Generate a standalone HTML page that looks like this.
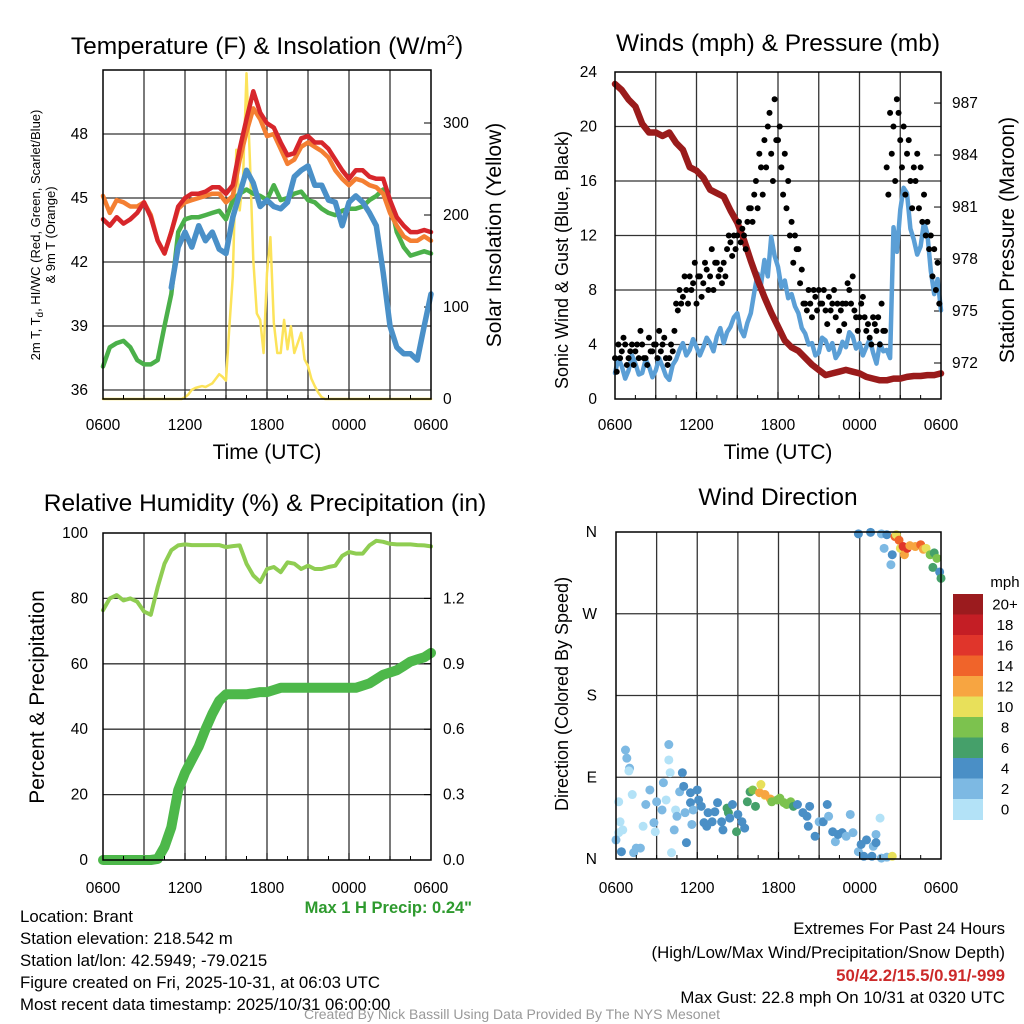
<!DOCTYPE html>
<html><head><meta charset="utf-8"><style>
body{margin:0;background:#fff}
svg{display:block;font-family:"Liberation Sans",Arial,sans-serif}
</style></head><body>
<svg id="fig" width="1024" height="1024" viewBox="0 0 1024 1024">
<rect width="1024" height="1024" fill="#fff"/>
<g id="p1"></g>
<g id="p2"></g>
<g id="p3"></g>
<g id="p4"></g>
<g id="txt">
<text x="267" y="54" font-size="24.5" text-anchor="middle">Temperature (F) &amp; Insolation (W/m<tspan dy="-9" font-size="15">2</tspan><tspan dy="9">)</tspan></text>
<text x="778" y="51" font-size="24.5" text-anchor="middle">Winds (mph) &amp; Pressure (mb)</text>
<text x="265" y="511" font-size="24.5" text-anchor="middle">Relative Humidity (%) &amp; Precipitation (in)</text>
<text x="778" y="505" font-size="24.5" text-anchor="middle">Wind Direction</text>
<text x="267" y="459" font-size="21" text-anchor="middle">Time (UTC)</text>
<text x="778" y="459" font-size="21" text-anchor="middle">Time (UTC)</text>
<text transform="translate(40,235) rotate(-90)" font-size="13" text-anchor="middle">2m T, T<tspan dy="3" font-size="10">d</tspan><tspan dy="-3">, HI/WC (Red, Green, Scarlet/Blue)</tspan></text>
<text transform="translate(55,235) rotate(-90)" font-size="13" text-anchor="middle">&amp; 9m T (Orange)</text>
<text transform="translate(501,235) rotate(-90)" font-size="21" text-anchor="middle">Solar Insolation (Yellow)</text>
<text transform="translate(568,260) rotate(-90)" font-size="18" text-anchor="middle">Sonic Wind &amp; Gust (Blue, Black)</text>
<text transform="translate(1014,240) rotate(-90)" font-size="21" text-anchor="middle">Station Pressure (Maroon)</text>
<text transform="translate(44,697) rotate(-90)" font-size="21" text-anchor="middle">Percent &amp; Precipitation</text>
<text transform="translate(568,694) rotate(-90)" font-size="18" text-anchor="middle">Direction (Colored By Speed)</text>
<text x="472" y="913" font-size="16.5" font-weight="bold" fill="#2e9a2e" text-anchor="end">Max 1 H Precip: 0.24"</text>
<g font-size="16.8">
<text x="20" y="922">Location: Brant</text>
<text x="20" y="944">Station elevation: 218.542 m</text>
<text x="20" y="966">Station lat/lon: 42.5949; -79.0215</text>
<text x="20" y="988">Figure created on Fri, 2025-10-31, at 06:03 UTC</text>
<text x="20" y="1010">Most recent data timestamp: 2025/10/31 06:00:00</text>
</g>
<g font-size="16.8" text-anchor="end">
<text x="1005" y="934">Extremes For Past 24 Hours</text>
<text x="1005" y="958">(High/Low/Max Wind/Precipitation/Snow Depth)</text>
<text x="1005" y="981" font-weight="bold" fill="#cc2a2a">50/42.2/15.5/0.91/-999</text>
<text x="1005" y="1003">Max Gust: 22.8 mph On 10/31 at 0320 UTC</text>
</g>
<text x="512" y="1019" font-size="14" fill="#999" text-anchor="middle">Created By Nick Bassill Using Data Provided By The NYS Mesonet</text>
</g>
</svg>
<script>
// ---- data (half-hourly unless noted) ----
const xTickLabels = ["0600","1200","1800","0000","0600"];
const tempRed = [44.0,43.7,44.1,43.8,44.0,44.3,44.8,44.1,43.0,42.4,43.4,44.6,45.0,45.2,45.2,45.3,45.5,45.5,45.2,45.6,47.3,48.7,50.0,49.0,48.5,48.3,47.6,47.0,47.1,47.8,47.9,47.6,47.6,47.3,46.8,46.3,45.9,46.3,46.3,46.0,45.9,45.9,44.9,44.1,43.7,43.4,43.4,43.5,43.4];
const tempOrange = [45.1,44.3,44.9,44.8,44.6,44.6,44.8,44.2,43.0,42.4,43.4,44.5,44.8,44.9,45.0,45.1,45.2,45.2,44.8,45.1,46.8,48.1,49.2,48.7,47.9,48.0,47.3,46.6,46.8,47.4,47.6,47.4,47.2,46.9,46.3,45.9,45.6,45.9,45.8,45.6,45.5,45.2,44.3,43.7,43.2,43.0,43.0,43.2,43.0];
const tempGreen = [37.1,38.0,38.2,38.3,38.0,37.4,37.2,37.2,37.4,39.0,40.5,43.4,44.0,44.1,44.1,44.2,44.3,44.4,44.0,44.9,45.2,45.4,45.2,45.1,44.9,45.6,44.9,45.0,45.2,45.3,44.9,44.8,44.5,44.3,44.2,44.4,44.5,44.5,44.6,44.9,45.1,45.4,44.9,43.4,42.7,42.3,42.4,42.5,42.4];
const tempBlue = [null,null,null,null,null,null,null,null,null,null,40.8,42.7,43.4,42.7,43.7,43.0,43.4,42.6,42.4,44.1,45.2,46.3,45.7,44.6,44.9,44.6,44.5,44.8,46.0,46.3,46.5,45.6,45.6,44.9,44.8,43.7,44.8,45.1,44.8,44.3,43.7,41.5,39.0,38.0,37.7,37.7,37.4,39.0,40.5];
// quarter-hourly insolation W/m2
const solar = [0,0,0,0,0,0,0,0,0,0,0,0,0,0,0,0,0,0,0,0,0,0,0,0,2,5,10,12,13,14,13,15,17,22,27,24,20,79,133,271,205,242,354,260,151,93,86,50,137,176,83,50,50,86,54,79,50,61,72,43,36,22,14,7,2,0,0,0,0,0,0,0,0,0,0,0,0,0,0,0,0,0,0,0,0,0,0,0,0,0,0,0,0,0,0,0,0];
// quarter-hourly sonic wind mph
const windSpd = [1.9,3.0,2.4,1.5,2.1,3.2,2.6,1.8,1.9,2.9,2.4,1.6,2.1,3.0,2.4,1.7,1.4,2.5,2.9,3.6,4.1,3.2,3.6,4.4,3.8,3.2,3.8,4.5,4.1,3.5,4.6,5.2,4.1,4.9,5.3,6.0,6.3,5.1,4.6,5.6,6.3,7.8,9.2,8.4,10.2,9.0,11.9,10.5,9.7,8.2,8.7,7.4,7.7,6.8,6.3,5.2,4.8,4.0,4.1,3.2,3.4,4.5,4.3,3.6,4.1,3.0,3.4,4.2,3.8,4.9,4.6,3.7,4.1,3.2,3.8,4.4,3.4,2.6,4.1,3.5,3.6,3.0,12.6,10.8,13.9,15.5,15.1,12.5,11.7,10.6,11.2,13.0,12.1,9.4,7.7,8.8,6.5];
const pressure = [988.1,987.75,987.2,986.8,985.8,985.3,985.3,985.1,985.3,984.7,984.3,983.3,983.1,982.7,982.0,981.8,981.6,980.8,980.1,979.1,977.9,976.8,975.8,974.9,974.1,973.3,972.9,972.7,972.3,971.9,971.6,971.3,971.4,971.5,971.6,971.5,971.4,971.2,971.1,971.0,971.0,971.1,971.1,971.2,971.25,971.25,971.3,971.3,971.4];
// quarter-hourly gusts (two interleaved sets)
const gustA = [3,4,3.5,4,3,4,3.5,3,4,3,4.5,3.5,4,5,4,3,3,3.5,7,8,7.5,8,9,8.5,7,9,8.5,9.5,9,8,10,9.5,10,11,11.5,12,12,11.5,12,13,14,15,14,17,19,20,18,22,19,17,18,16,13,12,11,9.5,7,8,6,7.5,8,7,6.5,7.5,7,6,5,7,7,8,9,6,6,7.5,5,4.5,6,5,4,5,17,21,20,22,19,20,18,16,17,18,17,15,13,12,11,10];
const gustB = [2,3,4.5,2.5,3.5,2.5,4,5,3,2.5,3.5,4,3,3.5,4.5,2.5,4,5,6.5,7,9,7,8,10,9,7.5,10,8,11,10,9,8.5,9,12,10.5,11,13,12.5,11,14,13,16,18,15,17,21,16,19,20,15,14,12,10,11,8.5,7,6.5,7,8,6.5,7,8,5.5,6.5,8,7,6.5,5.5,8.5,7,6.5,5,7,6,5.5,4,5.5,6,7,5,15,18,16,21,17,15,19,14,16,14,13,12,11,9,8,7];
const rh = [76.4,80,81,79.4,80,79,76,75,83.5,90.6,94.7,96.2,96.5,96.3,96.3,96.3,96.3,96.3,95.7,96,96.2,90.6,87,85,89,89.6,88,91,90.6,89,90,89,89,89.6,90,93,94.2,93.7,93.7,96.2,97.6,97.3,96.7,96.5,96.5,96.5,96.3,96.2,95.9];
const precip = [0,0,0,0,0,0,0,0,0.005,0.06,0.15,0.32,0.40,0.46,0.52,0.60,0.67,0.73,0.76,0.76,0.76,0.76,0.765,0.77,0.77,0.78,0.79,0.79,0.79,0.79,0.79,0.79,0.79,0.79,0.79,0.79,0.79,0.79,0.80,0.81,0.83,0.85,0.86,0.87,0.89,0.91,0.92,0.93,0.95];
// wind direction: hours since 0600, degrees, speed mph
const dirHour = [0.2,0,0.4,0.7,0.8,1,0.95,0.2,0.3,0.5,1.2,1.5,1.3,1.8,2.2,2,2.5,2.8,2.9,3,3.4,3.5,3.7,3.9,3.9,4,4.1,4.3,4.4,4.5,4.7,4.9,5,5.1,5.2,5.5,5.5,5.6,5.7,6,6.1,6.3,6.5,6.7,6.8,7.1,7.3,7.5,7.8,7.9,8.2,8.3,8.4,8.6,8.9,9,9.3,9.5,9.7,9.9,10.1,10.3,10.6,10.7,11,11,11.4,11.5,11.9,12.1,12.4,12.6,12.9,13.1,13.4,13.8,14.1,14.2,14.3,14.7,15,15.3,15.6,15.7,16,16.2,16.4,16.7,17,17.3,17.5,17.9,18.1,18.3,18.5,18.9,19,19.2,19.2,19.5,19.6,20,20.4,17.9,18.8,19.6,19.8,20,20.3,20.4,20.6,20.7,20.9,21,21.2,21.3,21.5,21.7,22.1,22.5,22.7,22.9,23.2,23.5,23.7,23.4,23.9,24];
const dirDeg = [29,21,8,120,111,100,97,63,41,32,71,12,7,12,60,36,76,40,30,63,54,84,65,126,109,95,7,32,54,47,74,95,80,51,18,73,62,38,54,76,65,58,40,36,51,41,52,62,41,32,56,51,45,60,30,49,41,34,63,74,76,58,73,82,70,71,66,63,65,67,62,60,63,58,60,51,47,36,58,25,41,41,60,47,30,19,27,29,25,49,29,8,16,3,21,3,14,27,18,45,1,2,3,358,359.6,358,342,357,324,335,355,357,351,342,344,335,342,345,344,346,341,342,335,337,331,321,316,309];
const dirSpd = [1,3,4,3,3,3,1,1,1,1,1,3,3,3,3,1,3,3,1,3,3,3,1,3,1,1,1,3,1,3,3,5,5,3,5,5,5,3,3,5,5,5,5,5,5,5,5,5,5,5,7,7,5,5,7,5,5,5,7,7,9,7,13,11,11,13,13,9,9,9,9,9,9,7,5,5,5,5,5,5,3,5,5,3,5,3,5,5,3,3,3,3,5,5,5,5,3,3,5,1,3,3,11,5,5,3,3,5,3,5,14,11,14,10,16,12,16,12,12,14,12,10,9,7,9,7,5,7];
const speedBins = ["0","2","4","6","8","10","12","14","16","18","20+"];
const binColors = ["#b3e2f7","#7db9e3","#4a8fc6","#45a06a","#7cc24e","#e8e05a","#f7a541","#f0642a","#e0352b","#c41e25","#9b1b1e"];

const NS="http://www.w3.org/2000/svg";
function mk(parent, tag, attrs, name, inter){
  const el=document.createElementNS(NS,tag);
  for(const k in attrs) el.setAttribute(k,attrs[k]);
  
  
  parent.appendChild(el); return el;
}
function txt(parent,x,y,s,anchor,size,name){
  const t=mk(parent,'text',{x:x,y:y,'font-size':size||16,'text-anchor':anchor||'start'},name);
  t.textContent=s; return t;
}
function frame(g,P,name){
  for(let h=3;h<24;h+=3){const x=P.xs(h);mk(g,'line',{x1:x,x2:x,y1:P.y0,y2:P.y1,stroke:'#333','stroke-width':1.3},name+'-vgrid');}
}
function border(g,P,name){
  mk(g,'rect',{x:P.x0,y:P.y0,width:P.x1-P.x0,height:P.y1-P.y0,fill:'none',stroke:'#000','stroke-width':1.5},name+'-border');
  for(let h=0;h<=24;h+=1.5){const x=P.xs(h);const L=(h%6===0)?7:4;mk(g,'line',{x1:x,x2:x,y1:P.y1,y2:P.y1-L,stroke:'#000','stroke-width':1},name+'-x-tick');}
}
function xlabels(g,P,y,name){
  xTickLabels.forEach((s,i)=>txt(g,P.xs(i*6),y,s,'middle',15.5,name+'-x-tick-label'));
}
function line(g,vals,step,xs,ys,attrs,name){
  let d='',pen=false;
  vals.forEach((v,i)=>{ if(v===null){pen=false;return;}
    d+=(pen?'L':'M')+xs(i*step).toFixed(1)+' '+ys(v).toFixed(1); pen=true;});
  return mk(g,'path',Object.assign({d:d,fill:'none','stroke-linejoin':'round','stroke-linecap':'round'},attrs),name);
}
function mkP(x0,x1,y0,y1){return {x0,x1,y0,y1,xs:h=>x0+h*(x1-x0)/24};}

// ---- Panel 1 ----
(function(){
  const g=document.getElementById('p1');
  const P=mkP(103,431,70,399);
  const yT=v=>390-(v-36)*64/3, yS=v=>399-v*0.92;
  frame(g,P,'p1');
  [36,39,42,45,48].forEach(v=>{mk(g,'line',{x1:P.x0,x2:P.x1,y1:yT(v),y2:yT(v),stroke:'#333','stroke-width':1.3},'p1-hgrid');
    txt(g,88,yT(v)+5,String(v),'end',15.5,'p1-y-tick-label');});
  [0,100,200,300].forEach(v=>{txt(g,443,yS(v)+5,String(v),'start',15.5,'p1-right-tick-label');
    mk(g,'line',{x1:P.x1,x2:P.x1-7,y1:yS(v),y2:yS(v),stroke:'#000'},'p1-right-tick');});
  line(g,solar,0.25,P.xs,yS,{stroke:'#fce35a','stroke-width':2.5},'solar-insolation-line');
  line(g,tempGreen,0.5,P.xs,yT,{stroke:'#4bb04a','stroke-width':4.5},'dewpoint-line');
  line(g,tempBlue,0.5,P.xs,yT,{stroke:'#4a90c8','stroke-width':5.5},'wind-chill-line');
  line(g,tempOrange,0.5,P.xs,yT,{stroke:'#f47f32','stroke-width':4.5},'temp-9m-line');
  line(g,tempRed,0.5,P.xs,yT,{stroke:'#d7262b','stroke-width':4.5},'temp-2m-line');
  border(g,P,'p1'); xlabels(g,P,430,'p1');
})();

// ---- Panel 2 ----
(function(){
  const g=document.getElementById('p2');
  const P=mkP(615,941,72,399);
  const yW=v=>399-v*13.625, yP=v=>363-(v-972)*17.33;
  frame(g,P,'p2');
  [0,4,8,12,16,20,24].forEach(v=>{ if(v>0&&v<24) mk(g,'line',{x1:P.x0,x2:P.x1,y1:yW(v),y2:yW(v),stroke:'#333','stroke-width':1.3},'p2-hgrid');
    txt(g,597,yW(v)+5,String(v),'end',15.5,'p2-y-tick-label');});
  [972,975,978,981,984,987].forEach(v=>{txt(g,952,yP(v)+5,String(v),'start',15.5,'p2-right-tick-label');
    mk(g,'line',{x1:P.x1,x2:P.x1-7,y1:yP(v),y2:yP(v),stroke:'#000'},'p2-right-tick');});
  line(g,windSpd,0.25,P.xs,yW,{stroke:'#5b9fd6','stroke-width':4.5},'sonic-wind-line');
  line(g,pressure,0.5,P.xs,yP,{stroke:'#9a1b1b','stroke-width':6.5},'pressure-line');
  gustA.forEach((v,i)=>{mk(g,'circle',{cx:P.xs(i*0.25),cy:yW(v),r:3,fill:'#000'},'gust-point');});
  gustB.forEach((v,i)=>{mk(g,'circle',{cx:P.xs(i*0.25+0.125),cy:yW(v),r:3,fill:'#000'},'gust-point');});
  border(g,P,'p2'); xlabels(g,P,430,'p2');
})();

// ---- Panel 3 ----
(function(){
  const g=document.getElementById('p3');
  const P=mkP(103,431,533,860);
  const yR=v=>860-v*3.27, yI=v=>860-v/1.5*327;
  frame(g,P,'p3');
  [0,20,40,60,80,100].forEach(v=>{ if(v>0&&v<100) mk(g,'line',{x1:P.x0,x2:P.x1,y1:yR(v),y2:yR(v),stroke:'#333','stroke-width':1.3},'p3-hgrid');
    txt(g,88,yR(v)+5,String(v),'end',15.5,'p3-y-tick-label');});
  [0,0.3,0.6,0.9,1.2].forEach(v=>{txt(g,443,yI(v)+5,v.toFixed(1),'start',15.5,'p3-right-tick-label');
    mk(g,'line',{x1:P.x1,x2:P.x1-7,y1:yI(v),y2:yI(v),stroke:'#000'},'p3-right-tick');});
  line(g,precip,0.5,P.xs,yI,{stroke:'#4db84a','stroke-width':10},'precipitation-line');
  line(g,rh,0.5,P.xs,yR,{stroke:'#8fcd52','stroke-width':4},'relative-humidity-line');
  border(g,P,'p3'); xlabels(g,P,893,'p3');
})();

// ---- Panel 4 ----
(function(){
  const g=document.getElementById('p4');
  const P=mkP(616,941,532,859);
  const yD=v=>859-v/360*327;
  frame(g,P,'p4');
  [[0,'N'],[90,'E'],[180,'S'],[270,'W'],[360,'N']].forEach(([v,s])=>{ if(v>0&&v<360) mk(g,'line',{x1:P.x0,x2:P.x1,y1:yD(v),y2:yD(v),stroke:'#333','stroke-width':1.3},'p4-hgrid');
    txt(g,597,yD(v)+5,s,'end',15.5,'p4-y-tick-label');});
  dirHour.forEach((h,i)=>{const b=Math.min(10,Math.floor(dirSpd[i]/2));
    mk(g,'circle',{cx:P.xs(h),cy:yD(dirDeg[i]),r:4.5,fill:binColors[b]},'wind-direction-point');});
  border(g,P,'p4'); xlabels(g,P,893,'p4');
  const cb=mk(g,'g',{},'speed-colorbar');
  txt(cb,1005,587,'mph','middle',15,'colorbar-title');
  const top=594,h=20.5;
  for(let i=0;i<11;i++){const k=10-i;
    mk(cb,'rect',{x:953,y:top+i*h,width:30,height:h+0.5,fill:binColors[k]},'colorbar-swatch');
    txt(cb,1005,top+i*h+h/2+5,speedBins[k],'middle',15,'colorbar-label');}
})();
</script>
</body></html>
